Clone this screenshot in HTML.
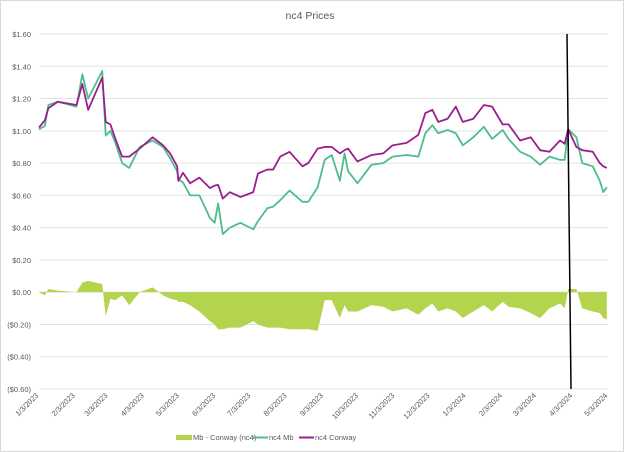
<!DOCTYPE html>
<html><head><meta charset="utf-8"><style>
body{margin:0;background:#fff;}
svg{display:block;font-family:"Liberation Sans",sans-serif;}
</style></head><body>
<svg id="chart" width="624" height="452" viewBox="0 0 624 452" xmlns="http://www.w3.org/2000/svg">
<rect x="0.5" y="0.5" width="623" height="451" fill="#fff" stroke="#d9d9d9"/>
<text x="310" y="19" text-anchor="middle" font-size="10.5" fill="#595959">nc4 Prices</text>
<g id="grid"></g>
<g id="yaxis"></g>
<g id="xaxis"></g>
<g id="series"></g>
<line x1="567" y1="34" x2="571" y2="389" stroke="#000" stroke-width="1.5"/>
<g font-size="7.5" fill="#595959">
<g><rect x="176" y="435" width="16" height="5" fill="#b5d44e"/><text x="193" y="440">Mb - Conway (nc4)</text></g>
<g><line x1="253" y1="437.5" x2="268" y2="437.5" stroke="#4dbd8e" stroke-width="2"/><text x="269" y="440">nc4 Mb</text></g>
<g><line x1="299" y1="437.5" x2="314" y2="437.5" stroke="#9a1f8e" stroke-width="2"/><text x="315" y="440">nc4 Conway</text></g>
</g>
</svg>
<script>
const days=[0,5,8,16,32,37,42,54,57,61,65,71,77,86,97,106,112,118,119,123,129,137,146,150,153,157,163,172,183,187,195,200,206,214,225,230,238,244,250,257,261,264,272,284,294,302,314,324,330,336,341,349,356,362,371,380,387,396,401,411,420,428,436,445,449,452,459,464,473,479,482,485];
const conway=[1.02,1.065,1.14,1.18,1.16,1.29,1.13,1.33,1.055,1.04,0.955,0.84,0.84,0.89,0.96,0.91,0.86,0.78,0.69,0.74,0.675,0.71,0.645,0.66,0.665,0.58,0.62,0.59,0.62,0.735,0.76,0.76,0.84,0.87,0.78,0.80,0.89,0.90,0.90,0.86,0.88,0.89,0.81,0.85,0.86,0.91,0.925,0.975,1.11,1.13,1.055,1.075,1.15,1.055,1.075,1.16,1.15,1.04,1.04,0.94,0.96,0.88,0.87,0.94,0.92,1.01,0.90,0.88,0.87,0.80,0.78,0.77];
const mb=[1.01,1.03,1.16,1.18,1.15,1.35,1.20,1.37,0.97,1.0,0.93,0.80,0.77,0.90,0.94,0.90,0.83,0.75,0.70,0.68,0.60,0.60,0.46,0.43,0.55,0.36,0.40,0.43,0.39,0.44,0.52,0.53,0.57,0.63,0.56,0.56,0.65,0.82,0.85,0.69,0.86,0.75,0.675,0.79,0.80,0.84,0.85,0.84,0.985,1.035,0.985,1.005,0.985,0.91,0.96,1.025,0.95,1.005,0.95,0.87,0.84,0.79,0.84,0.82,0.82,1.01,0.96,0.80,0.78,0.69,0.62,0.65];
const diff=[0.0,-0.02,0.02,0.01,0.0,0.06,0.07,0.05,-0.15,-0.04,-0.05,-0.02,-0.08,0.0,0.03,-0.02,-0.04,-0.05,-0.06,-0.06,-0.08,-0.12,-0.18,-0.2,-0.23,-0.23,-0.22,-0.22,-0.18,-0.2,-0.22,-0.22,-0.22,-0.23,-0.23,-0.23,-0.24,-0.05,-0.05,-0.16,-0.08,-0.12,-0.12,-0.08,-0.09,-0.12,-0.1,-0.14,-0.1,-0.07,-0.12,-0.1,-0.12,-0.16,-0.12,-0.08,-0.12,-0.06,-0.09,-0.1,-0.13,-0.16,-0.1,-0.07,-0.1,0.02,0.02,-0.1,-0.12,-0.13,-0.16,-0.17];
const yTicks=[1.6,1.4,1.2,1.0,0.8,0.6,0.4,0.2,0,-0.2,-0.4,-0.6];
const xTickDays=[0,31,59,90,120,151,181,212,243,273,304,334,365,396,425,456,486];
const xTickLabels=["1/3/2023","2/3/2023","3/3/2023","4/3/2023","5/3/2023","6/3/2023","7/3/2023","8/3/2023","9/3/2023","10/3/2023","11/3/2023","12/3/2023","1/3/2024","2/3/2024","3/3/2024","4/3/2024","5/3/2024"];

const NS="http://www.w3.org/2000/svg";
const X0=39,X1=608,Y0=34,Y1=389,VMAX=1.6,VMIN=-0.6,DMAX=486;
const xs=d=>X0+(d/DMAX)*(X1-X0);
const ys=v=>Y0+(VMAX-v)/(VMAX-VMIN)*(Y1-Y0);
function mk(tag,attrs,parent){const e=document.createElementNS(NS,tag);for(const k in attrs)e.setAttribute(k,attrs[k]);parent.appendChild(e);return e;}
const grid=document.getElementById('grid'),ya=document.getElementById('yaxis'),xa=document.getElementById('xaxis'),ser=document.getElementById('series');
const fmt=v=>{const s='$'+Math.abs(v).toFixed(2);return v<-1e-9?'('+s+')':s;};
yTicks.forEach(v=>{
  const l=mk('line',{x1:X0,x2:X1,y1:ys(v),y2:ys(v),stroke:'#e3e3e3','stroke-width':1},grid);
  
  
  const t=mk('text',{x:31,y:ys(v)+3,'text-anchor':'end','font-size':'7.5',fill:'#595959'},ya);
  t.textContent=fmt(v);
  
  
});
xTickDays.forEach((d,i)=>{
  const x=xs(d),y=396;
  const t=mk('text',{x:x,y:y,'text-anchor':'end','font-size':'7.5',fill:'#595959',transform:`rotate(-45 ${x} ${y})`},xa);
  t.textContent=xTickLabels[i];
  
  
});
// area
let dA=`M${xs(days[0])},${ys(0)}`;
days.forEach((d,i)=>{dA+=` L${xs(d)},${ys(diff[i])}`;});
dA+=` L${xs(days[days.length-1])},${ys(0)} Z`;
const area=mk('path',{d:dA,fill:'#b5d44e'},ser);


function line(arr,color,name){
  const d=days.map((dd,i)=>(i?'L':'M')+xs(dd)+','+ys(arr[i])).join(' ');
  const p=mk('path',{d:d,fill:'none',stroke:color,'stroke-width':1.8,'stroke-linejoin':'round'},ser);
  
  
}
line(mb,'#4dbd8e','nc4-mb-line');
line(conway,'#9a1f8e','nc4-conway-line');
</script>
</body></html>
